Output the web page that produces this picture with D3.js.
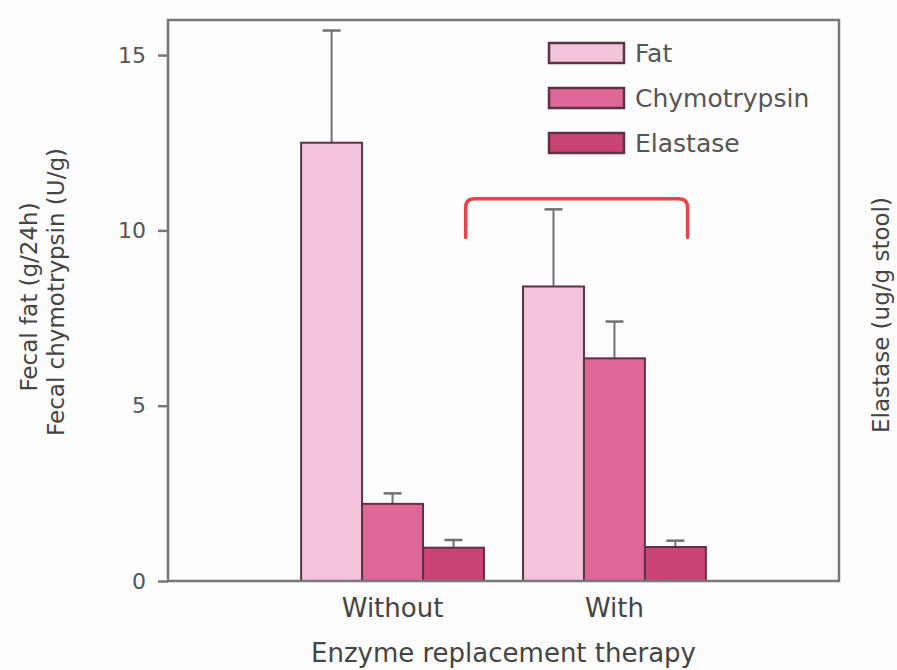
<!DOCTYPE html>
<html><head><meta charset="utf-8">
<script src="https://cdn.jsdelivr.net/npm/d3@7"></script>
<style>html,body{margin:0;padding:0;background:#fdfdfd;}svg{display:block;}</style>
</head><body>
<svg id="c" width="897" height="670"></svg>
<script>
const groups = ["Without", "With"];
const seriesNames = ["Fat", "Chymotrypsin", "Elastase"];
const fatValues = [12.5, 8.4];
const fatErrors = [15.7, 10.6];
const chymoValues = [2.2, 6.35];
const chymoErrors = [2.5, 7.4];
const elastaseValues = [0.95, 0.97];
const elastaseErrors = [1.17, 1.15];
const yTicks = [0, 5, 10, 15];
const colors = ["#f2c3da", "#df6797", "#cb4476"];

const svg = d3.select("#c");
const m = {l: 168, r: 839, t: 20, b: 581};
const font = "'DejaVu Sans', sans-serif";

const x = d3.scaleBand().domain(groups).range([m.l, m.r]).paddingInner(0.176).paddingOuter(0.6);
const xs = d3.scaleBand().domain(seriesNames).range([0, x.bandwidth()]);
const y = d3.scaleLinear().domain([0, 16]).range([m.b, m.t]);

const values = [fatValues, chymoValues, elastaseValues];
const errs = [fatErrors, chymoErrors, elastaseErrors];
const data = [];
groups.forEach((g, gi) => seriesNames.forEach((s, si) => data.push({g, s, si, v: values[si][gi], e: errs[si][gi]})));

// error bars
const eb = svg.append("g");
data.forEach(d => {
  const cx = x(d.g) + xs(d.s) + xs.bandwidth() / 2;
  eb.append("line").attr("x1", cx).attr("x2", cx).attr("y1", y(d.v)).attr("y2", y(d.e))
    .attr("stroke", "#707070").attr("stroke-width", 2);
  eb.append("line").attr("x1", cx - 9).attr("x2", cx + 9).attr("y1", y(d.e)).attr("y2", y(d.e))
    .attr("stroke", "#707070").attr("stroke-width", 2.5);
});

// bars
svg.append("g").selectAll("rect").data(data).join("rect")
  .attr("x", d => x(d.g) + xs(d.s))
  .attr("y", d => y(d.v))
  .attr("width", xs.bandwidth())
  .attr("height", d => y(0) - y(d.v))
  .attr("fill", d => colors[d.si])
  .attr("stroke", "#5e3246").attr("stroke-width", 2);

// frame
svg.append("rect").attr("x", m.l).attr("y", m.t).attr("width", m.r - m.l).attr("height", m.b - m.t)
  .attr("fill", "none").attr("stroke", "#777").attr("stroke-width", 2.5);

// y axis
const ya = svg.append("g").attr("transform", `translate(${m.l},0)`)
  .call(d3.axisLeft(y).tickValues(yTicks).tickSize(10).tickPadding(12).tickFormat(d3.format("d")));
ya.select(".domain").remove();
ya.selectAll("line").attr("stroke", "#777").attr("stroke-width", 2.5);
ya.selectAll("text").attr("font-family", font).attr("font-size", 22).attr("fill", "#555");

// x axis labels
const xa = svg.append("g").attr("transform", `translate(0,${m.b})`)
  .call(d3.axisBottom(x).tickSize(0).tickPadding(20));
xa.select(".domain").remove();
xa.selectAll("text").attr("font-family", font).attr("font-size", 26).attr("fill", "#444").attr("dy", "0.6em");

svg.append("text").attr("x", (m.l + m.r) / 2).attr("y", 662).attr("text-anchor", "middle")
  .attr("font-family", font).attr("font-size", 26).attr("fill", "#444").text("Enzyme replacement therapy");

// y titles
svg.append("text").attr("transform", "translate(37,297) rotate(-90)").attr("text-anchor", "middle")
  .attr("font-family", font).attr("font-size", 23).attr("fill", "#444").text("Fecal fat (g/24h)");
svg.append("text").attr("transform", "translate(64,292) rotate(-90)").attr("text-anchor", "middle")
  .attr("font-family", font).attr("font-size", 23).attr("fill", "#444").text("Fecal chymotrypsin (U/g)");
svg.append("text").attr("transform", "translate(889,315) rotate(-90)").attr("text-anchor", "middle")
  .attr("font-family", font).attr("font-size", 23).attr("fill", "#444").text("Elastase (ug/g stool)");

// legend
const lg = svg.append("g");
seriesNames.forEach((s, i) => {
  const yy = 43 + i * 45;
  lg.append("rect").attr("x", 549).attr("y", yy).attr("width", 75).attr("height", 20)
    .attr("fill", colors[i]).attr("stroke", "#5e3246").attr("stroke-width", 2.5);
  lg.append("text").attr("x", 635).attr("y", yy + 19).attr("font-family", font).attr("font-size", 25)
    .attr("fill", "#555").text(s);
});

// bracket
const bx0 = x("Without") + x.bandwidth() * 0.9, bx1 = x("With") + x.bandwidth() * 0.9;
const byTop = y(10.9), byEnd = y(9.8), r = 9;
const p = d3.path();
p.moveTo(bx0, byEnd); p.lineTo(bx0, byTop + r);
p.quadraticCurveTo(bx0, byTop, bx0 + r, byTop);
p.lineTo(bx1 - r, byTop);
p.quadraticCurveTo(bx1, byTop, bx1, byTop + r);
p.lineTo(bx1, byEnd);
svg.append("path").attr("d", p.toString()).attr("fill", "none").attr("stroke", "#e8434c")
  .attr("stroke-width", 3.5).attr("stroke-linecap", "round");
</script>
</body></html>
